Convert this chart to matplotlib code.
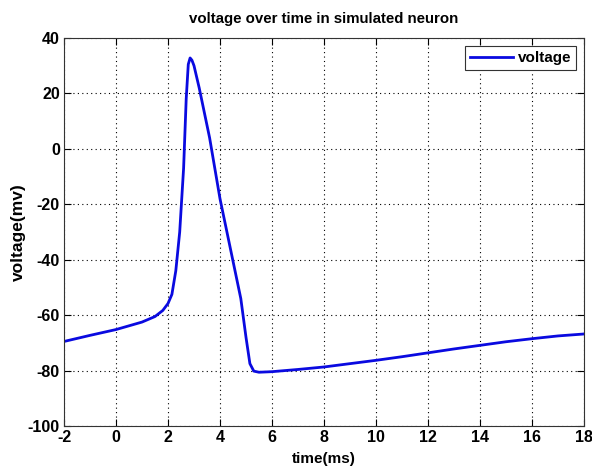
import matplotlib
matplotlib.use("Agg")
import matplotlib.pyplot as plt

time_ms = [-2, -1, 0, 1, 1.5, 1.8, 2.0, 2.15, 2.3, 2.45, 2.6, 2.7, 2.78, 2.85,
           2.92, 3.0, 3.2, 3.6, 4.0, 4.4, 4.8, 5.0, 5.15, 5.3, 5.5, 6, 7, 8,
           9, 10, 11, 12, 13, 14, 15, 16, 17, 18]
voltage_mv = [-69.5, -67.3, -65.2, -62.5, -60.5, -58.3, -55.8, -52.5, -44, -30,
              -7, 18, 30.5, 32.8, 32, 30, 22, 4, -18, -36, -54, -68, -77.5,
              -80.2, -80.6, -80.4, -79.6, -78.7, -77.5, -76.3, -75, -73.6,
              -72.2, -70.9, -69.6, -68.5, -67.5, -66.8]
x_ticks = list(range(-2, 19, 2))
y_ticks = list(range(-100, 41, 20))

plt.rcParams['font.family'] = ['Liberation Sans', 'DejaVu Sans']
plt.rcParams['axes.unicode_minus'] = False

fig = plt.figure(figsize=(5.92, 4.69), dpi=100)
ax = fig.add_axes([64/592, 43/469, 520/592, 388/469])

ax.plot(time_ms, voltage_mv, color='#0a0ae0', lw=2.0, label='voltage')
ax.set_xlim(-2, 18)
ax.set_ylim(-100, 40)
ax.set_xticks(x_ticks)
ax.set_yticks(y_ticks)
ax.grid(True, color='black', linestyle=(0, (1, 3)), linewidth=0.8)
ax.tick_params(direction='in', top=True, right=True, length=5, width=0.8,
               labelsize=11.5, pad=3)
for lab in ax.get_xticklabels() + ax.get_yticklabels():
    lab.set_fontweight('bold')
for s in ax.spines.values():
    s.set_linewidth(0.8)
    s.set_color('#333333')

ax.set_title('voltage over time in simulated neuron', fontsize=10.8,
             fontweight='bold', pad=11)
ax.set_xlabel('time(ms)', fontsize=11, fontweight='bold', labelpad=5)
ax.set_ylabel('voltage(mv)', fontsize=12.5, fontweight='bold', labelpad=1)

leg = ax.legend(loc='upper right', prop={'weight': 'bold', 'size': 11},
                fancybox=False, framealpha=1, edgecolor='#333333',
                borderaxespad=0.5, handlelength=2.8, handletextpad=0.3,
                borderpad=0.35)
leg.get_frame().set_linewidth(0.8)

fig.savefig('out.png', dpi=100)
